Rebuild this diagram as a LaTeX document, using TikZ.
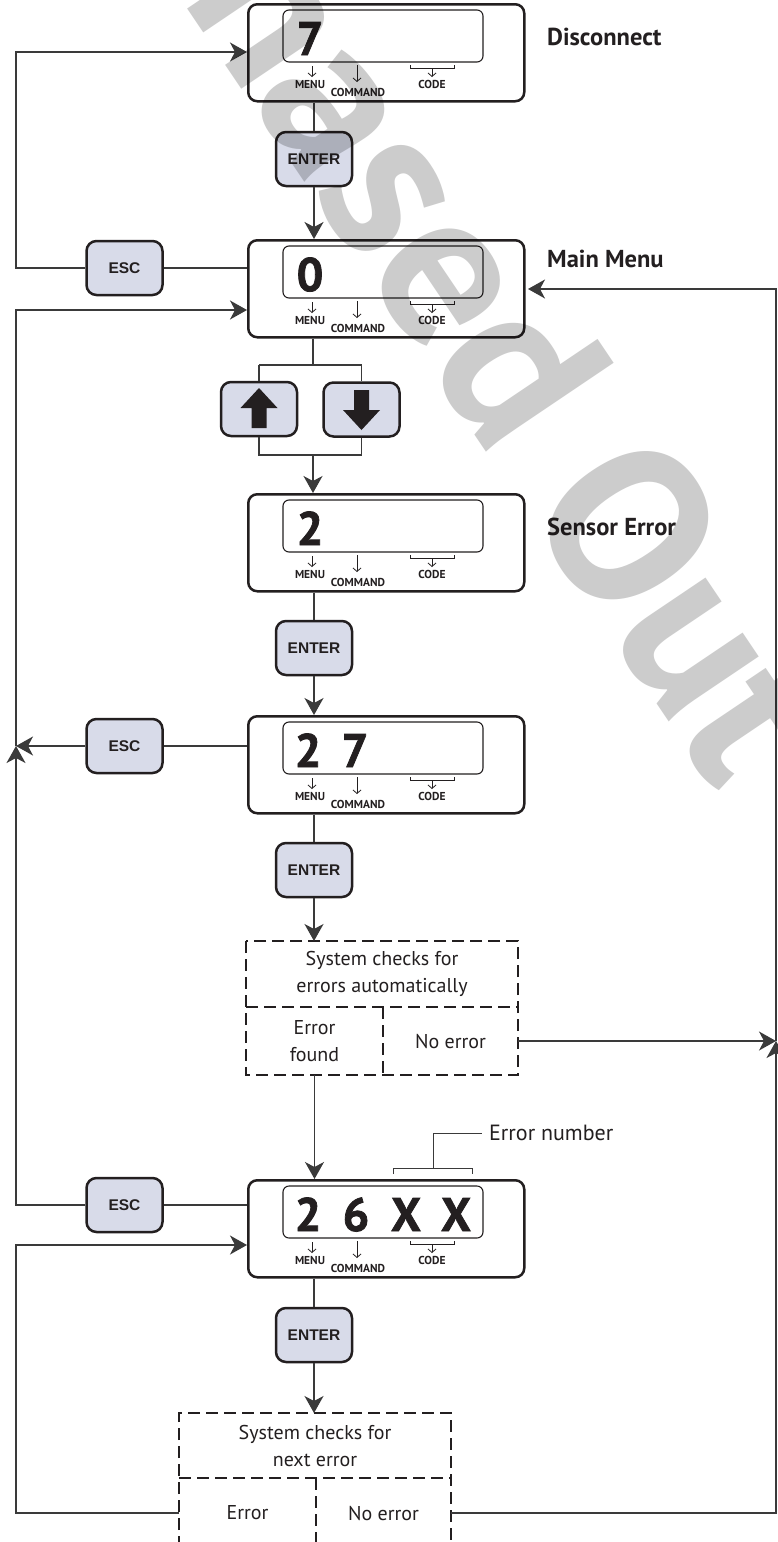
\documentclass[tikz,border=0pt]{standalone}
\usepackage{fontspec}
\setmainfont{PT Sans}
\newfontfamily\arialf{Liberation Sans}
\newfontfamily\digf[BoldFeatures={FakeBold=1.6}]{PT Sans}
\usetikzlibrary{arrows.meta,calc}
\definecolor{ink}{HTML}{231F20}
\definecolor{lnk}{HTML}{3A3A3A}
\definecolor{btnfill}{HTML}{D8DBE9}
\definecolor{wmgray}{HTML}{CCCCCC}
\tikzset{
 conn/.style={draw=lnk, line width=1.3pt},
 tipa/.style={-{Stealth[length=17pt,width=19pt,inset=5pt]}},
 disp/.style={draw=ink, line width=2.5pt, rounded corners=9pt, minimum width=276pt, minimum height=97pt, inner sep=0pt, anchor=north west},
 lcd/.style={draw=ink, line width=1.1pt, rounded corners=6pt},
 btn/.style={draw=ink, line width=2.5pt, rounded corners=10pt, fill=btnfill, minimum width=76pt, minimum height=54pt, inner sep=0pt, text=ink, font=\arialf\bfseries\fontsize{15.5}{15.5}\selectfont},
 dig/.style={anchor=base, inner sep=0pt, text=ink, font=\digf\bfseries\fontsize{47}{47}\selectfont},
 tag/.style={anchor=base, inner sep=0pt, text=ink, font=\bfseries\fontsize{11.5}{11.5}\selectfont},
 small/.style={draw=ink, line width=0.8pt},
 sarr/.style={-{Straight Barb[length=3.5pt,width=8pt]}},
 title/.style={anchor=west, inner sep=0pt, text=ink, font=\bfseries\fontsize{24.5}{24.5}\selectfont},
 chk/.style={inner sep=0pt, outer sep=0pt, text=ink, align=center, font=\fontsize{20}{27}\selectfont},
 dsh/.style={draw=ink, line width=1.2pt, dash pattern=on 12pt off 6pt},
}
\newcommand\dispbox[2]{%
 \node[disp] (#1) at (247,#2) {};
 \draw[lcd] (283,{#2+7}) rectangle (483,{#2+59});
 \draw[small,sarr] (312,{#2+63}) -- (312,{#2+74});
 \draw[small,sarr] (357,{#2+62}) -- (357,{#2+79});
 \draw[small] (410,{#2+62}) -- (410,{#2+65}) -- (454,{#2+65}) -- (454,{#2+62});
 \draw[small,sarr] (432,{#2+65}) -- (432,{#2+74});
 \node[tag] (#1m) at (310,{#2+85}) {MENU};
 \node[tag] (#1c) at (358,{#2+93}) {COMMAND};
 \node[tag] (#1k) at (432,{#2+85}) {CODE};
}
\begin{document}
\begin{tikzpicture}[x=1pt,y=-1pt]
\useasboundingbox[fill=white] (0,0) rectangle (778,1542);

% display boxes
\dispbox{d1}{3}
\dispbox{d2}{239}
\dispbox{d3}{493}
\dispbox{d4}{715}
\dispbox{d5}{1179}
\node[dig] (d1a) at (310,55) {7};
\node[dig] (d2a) at (310,291) {0};
\node[dig] (d3a) at (310,545) {2};
\node[dig] (d4a) at (308,767) {2};
\node[dig] (d4b) at (355,767) {7};
\node[dig] (d5a) at (308,1231) {2};
\node[dig] (d5b) at (356,1231) {6};
\node[dig] (d5c) at (406,1231) {X};
\node[dig] (d5d) at (456,1231) {X};

% titles
\node[title] (lab1) at (547,37) {Disconnect};
\node[title] (lab2) at (547,259) {Main Menu};
\node[title] (lab3) at (547,527) {Sensor Error};

% buttons
\node[btn] (enter1) at (314,159) {ENTER};
\node[btn] (enter2) at (314,648) {ENTER};
\node[btn] (enter3) at (314,870) {ENTER};
\node[btn] (enter4) at (314,1335) {ENTER};
\node[btn] (esc1) at (124.5,268) {ESC};
\node[btn] (esc2) at (124.5,746) {ESC};
\node[btn] (esc3) at (124.5,1205) {ESC};
\node[btn] (up) at (259,409) {};
\node[btn] (down) at (361.5,409.5) {};
\fill[ink] ($(up)+(0,-21)$) -- ++(18.5,20) -- ++(-11,0) -- ++(0,20) -- ++(-15,0) -- ++(0,-20) -- ++(-11,0) -- cycle;
\fill[ink] ($(down)+(0,20.5)$) -- ++(18.5,-20) -- ++(-11,0) -- ++(0,-20) -- ++(-15,0) -- ++(0,20) -- ++(-11,0) -- cycle;

% check boxes
\node[chk, minimum width=272pt, minimum height=66pt] (chk1) at (382,974) {System checks for\\errors automatically};
\node[chk, minimum width=137pt, minimum height=68pt] (chk1a) at (314.5,1041) {Error\\found};
\node[chk, minimum width=135pt, minimum height=68pt] (chk1b) at (450.5,1041) {No error};
\draw[dsh] (chk1.north west) rectangle (chk1b.south east);
\draw[dsh] (chk1.south west) -- (chk1.south east);
\draw[dsh] (chk1a.north east) -- (chk1a.south east);

\node[chk, minimum width=272pt, minimum height=65pt] (chk2) at (315,1445.5) {System checks for\\next error};
\node[chk, minimum width=137pt, minimum height=70pt] (chk2a) at (247.5,1513) {Error};
\node[chk, minimum width=135pt, minimum height=70pt] (chk2b) at (383.5,1513) {No error};
\draw[dsh] (chk2a.south west) -- (chk2.north west) -- (chk2.north east) -- (chk2b.south east);
\draw[dsh] (chk2.south west) -- (chk2.south east);
\draw[dsh] (chk2a.north east) -- (chk2a.south east);

% error number callout
\node[anchor=west, inner xsep=7pt, inner ysep=0pt, text=ink, font=\fontsize{22}{22}\selectfont] (errnum) at (482,1133) {Error number};
\coordinate (brl) at (393,1174);
\coordinate (brr) at (472,1174);
\coordinate (brm) at (433,1168);
\draw[conn, line width=1pt] (brl) -- ++(0,-6) -- ($(brr)+(0,-6)$) -- (brr);
\draw[conn, line width=1pt] (brm) |- (errnum.west);

% named points
\coordinate (xl) at (16,0);
\coordinate (xr) at (776,0);
\coordinate (jl) at (16,746);
\coordinate (jr) at (776,1041);
\coordinate (d1in) at (247,52);
\coordinate (d2inL) at (247,310);
\coordinate (d2inR) at (528,289);
\coordinate (d5in) at (247,1245);
\coordinate (bar1) at (313,365);
\coordinate (bar2) at (313,455);

% main flow
\draw[conn] (enter1.north |- d1.south) -- (enter1.north);
\draw[conn,tipa] (enter1.south) -- (enter1.south |- d2.north);
\draw[conn] (bar1 |- d2.south) -- (bar1);
\draw[conn] (up.north |- bar1) -- (down.north |- bar1);
\draw[conn] (up.north |- bar1) -- (up.north);
\draw[conn] (down.north |- bar1) -- (down.north);
\draw[conn] (up.south) -- (up.south |- bar2) -- (down.south |- bar2) -- (down.south);
\draw[conn,tipa] (bar2) -- (bar2 |- d3.north);
\draw[conn] (enter2.north |- d3.south) -- (enter2.north);
\draw[conn,tipa] (enter2.south) -- (enter2.south |- d4.north);
\draw[conn] (enter3.north |- d4.south) -- (enter3.north);
\draw[conn,tipa] (enter3.south) -- (enter3.south |- chk1.north);
\draw[conn,tipa] (chk1a.south) -- (chk1a.south |- d5.north);
\draw[conn] (enter4.north |- d5.south) -- (enter4.north);
\draw[conn,tipa] (enter4.south) -- (enter4.south |- chk2.north);

% escape paths (left)
\draw[conn] (esc1.east) -- (esc1.east -| d2.west);
\draw[conn,tipa] (esc1.west) -- (esc1.west -| xl) -- (xl |- d1in) -- (d1in);
\draw[conn] (esc2.east) -- (esc2.east -| d4.west);
\draw[conn,tipa] (esc2.west) -- (jl);
\draw[conn] (esc3.east) -- (esc3.east -| d5.west);
\draw[conn,tipa] (esc3.west) -- (esc3.west -| xl) -- (jl);
\draw[conn,tipa] (jl) -- (jl |- d2inL) -- (d2inL);
\draw[conn,tipa] (chk2a.west) -- (chk2a.west -| xl) -- (xl |- d5in) -- (d5in);

% right paths
\draw[conn,tipa] (chk1b.east) -- (jr);
\draw[conn,tipa] (chk2b.east) -- (chk2b.east -| xr) -- (jr);
\draw[conn,tipa] (jr) -- (jr |- d2inR) -- (d2inR);

% watermark
\begin{scope}[blend mode=multiply]
\clip (0,0) rectangle (778,1542);
\node[rotate=-56, text=wmgray, inner sep=0pt, font=\bfseries\fontsize{222}{222}\selectfont] (wm) at (478,300) {Phased Out};
\end{scope}
\end{tikzpicture}
\end{document}
